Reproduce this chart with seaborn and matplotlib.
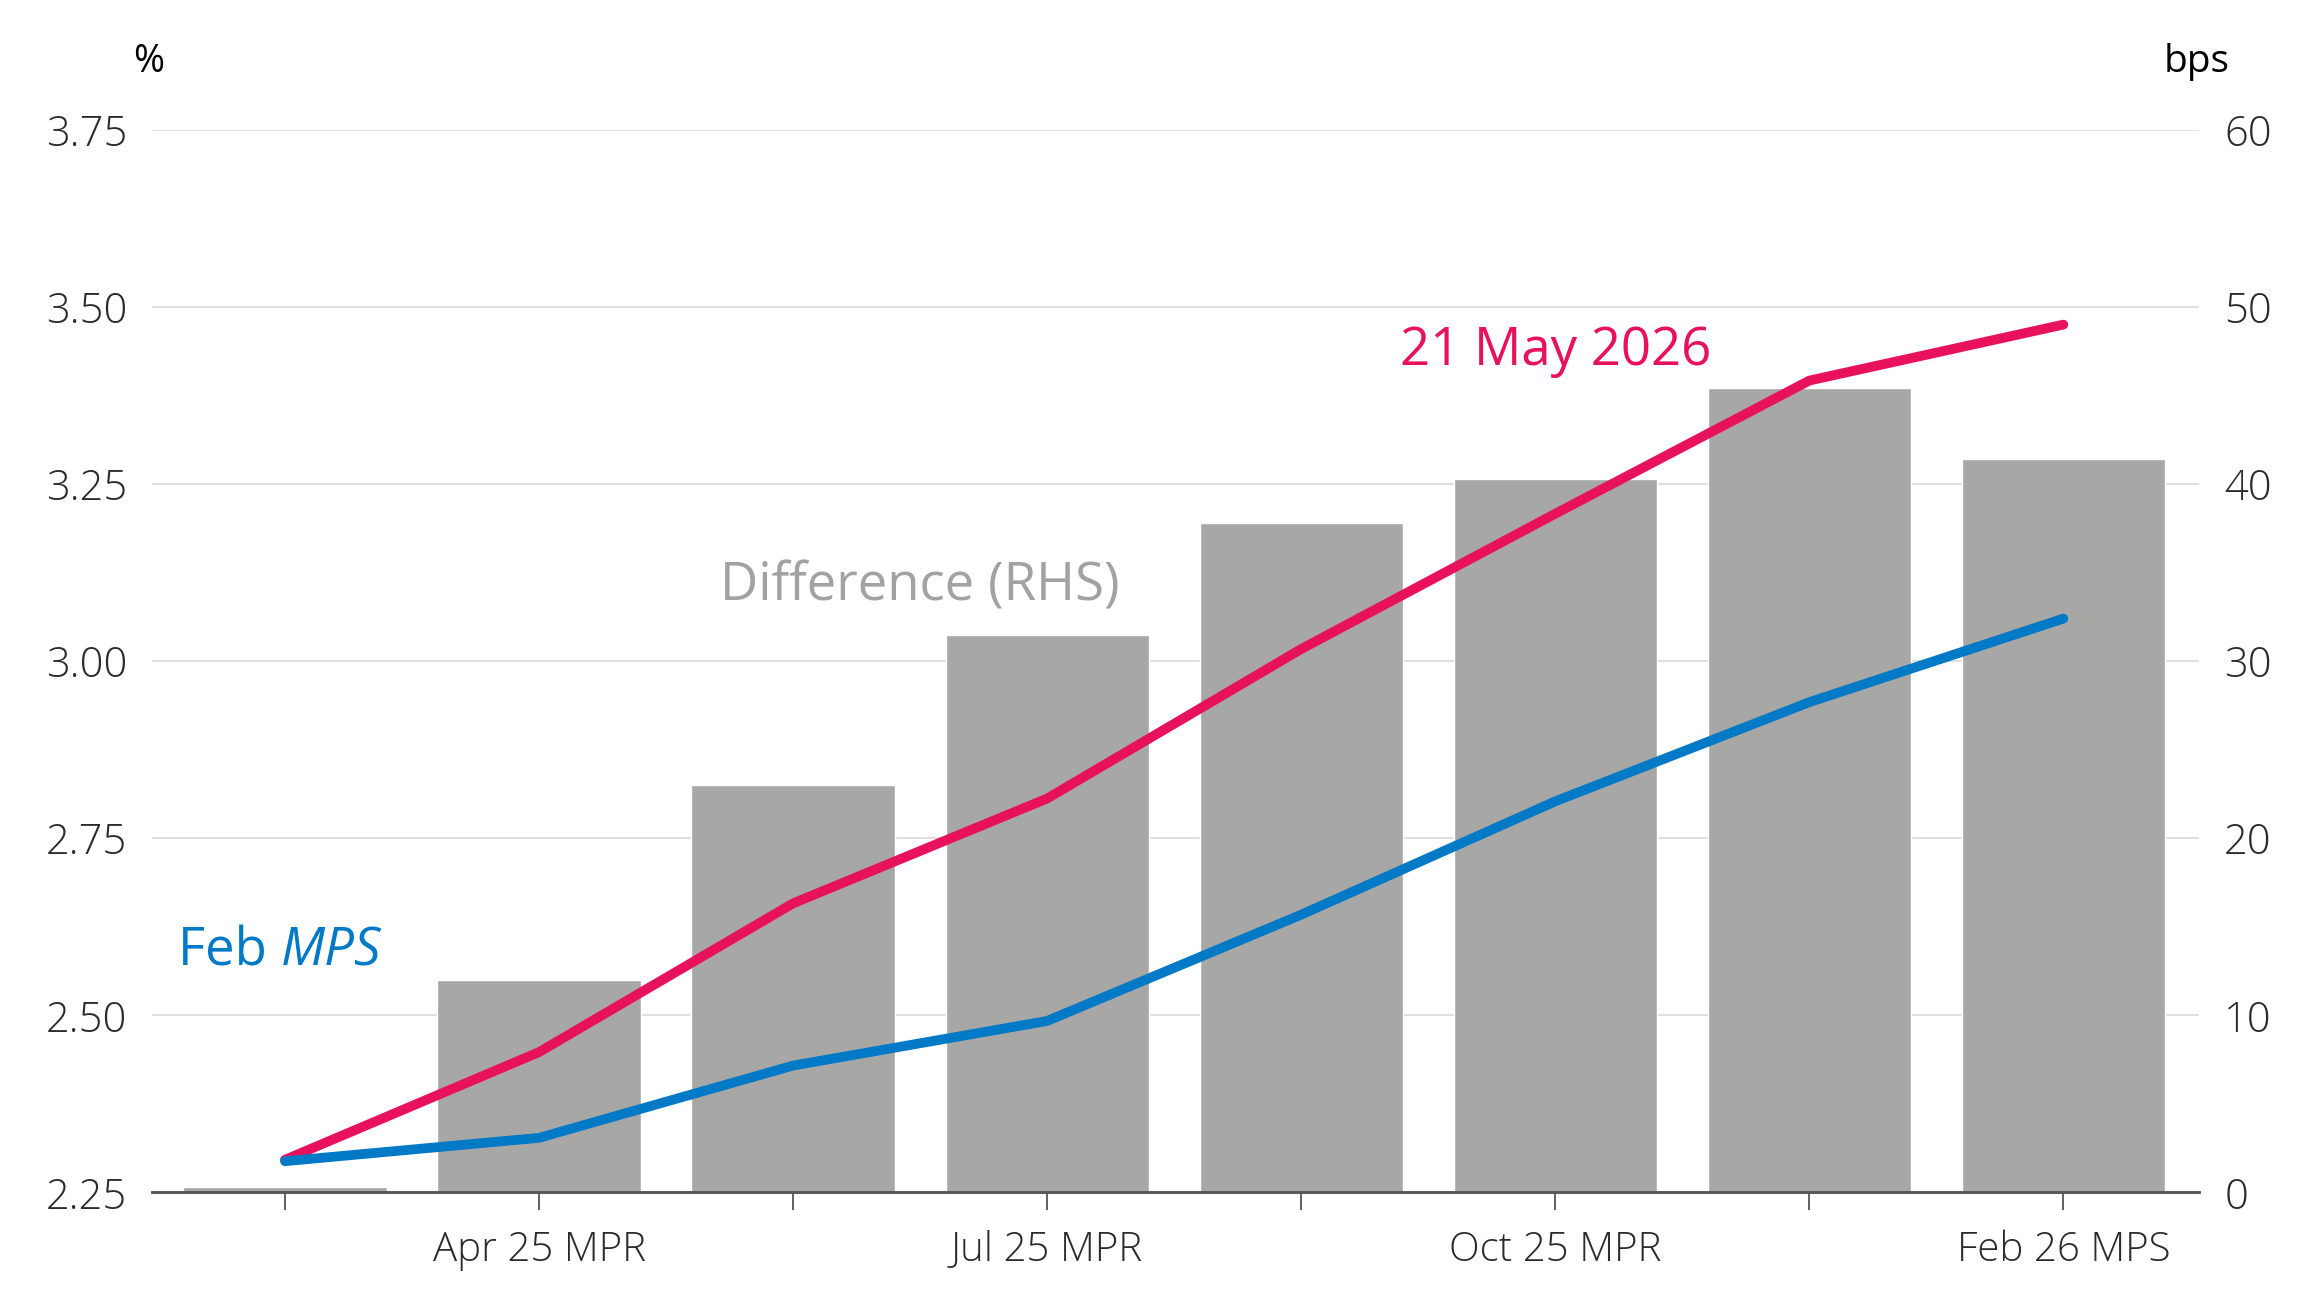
import numpy as np
import pandas as pd
import matplotlib
matplotlib.use("Agg")
import matplotlib.pyplot as plt
import seaborn as sns

# x categories (only every other one is labelled on the chart)
tick_labels = ["", "Apr 25 MPR", "", "Jul 25 MPR", "", "Oct 25 MPR", "", "Feb 26 MPS"]
positions = np.arange(len(tick_labels))

# market curves, % (LHS)
may_2026 = [2.296, 2.448, 2.658, 2.806, 3.017, 3.208, 3.396, 3.475]
feb_mps = [2.294, 2.327, 2.429, 2.492, 2.642, 2.802, 2.942, 3.060]
# difference, bps (RHS)
difference = [0.3, 12.0, 23.0, 31.5, 37.8, 40.3, 45.4, 41.4]

RED = "#E8125C"
BLUE = "#0079C6"
GREY = "#A7A7A6"
TEXT = "#2B2B2B"

sns.set_theme(style="white")
plt.rcParams["font.family"] = ["Open Sans", "DejaVu Sans"]

fig = plt.figure(figsize=(23.15, 13.06), dpi=100)
ax = fig.add_axes([0.0657, 0.087, 0.8843, 0.8136])
ax2 = ax.twinx()

df = pd.DataFrame({"pos": positions, "diff": difference})
sns.barplot(data=df, x="pos", y="diff", ax=ax2, color=GREY, width=0.8,
            saturation=1, native_scale=True, zorder=2)
ax2.set_ylim(0, 60)
ax2.set_yticks(np.arange(0, 61, 10))
ax2.yaxis.grid(True, color="#DCDCDC", linewidth=1.3, zorder=0)
ax2.set_axisbelow(True)
ax2.set_ylabel("")
ax2.set_xlabel("")

sns.lineplot(x=positions, y=may_2026, ax=ax, color=RED, linewidth=7)
sns.lineplot(x=positions, y=feb_mps, ax=ax, color=BLUE, linewidth=7)
ax.set_ylim(2.25, 3.75)
ax.set_yticks(np.arange(2.25, 3.76, 0.25))
ax.set_yticklabels([f"{v:.2f}" for v in np.arange(2.25, 3.76, 0.25)])
ax.set_xlim(-0.523, 7.535)
ax.set_xticks(positions)
ax.set_xticklabels(tick_labels)
ax.set_zorder(ax2.get_zorder() + 1)
ax.patch.set_visible(False)

for a in (ax, ax2):
    for s in ("top", "left", "right"):
        a.spines[s].set_visible(False)
    a.spines["bottom"].set_color("#555555")
    a.spines["bottom"].set_linewidth(1.8)

ax.tick_params(axis="x", bottom=True, length=13, width=1.3, color="#555555",
               labelsize=29, labelcolor=TEXT, pad=14)
ax.tick_params(axis="y", left=False, labelsize=30, labelcolor=TEXT, pad=12)
ax2.tick_params(axis="y", right=False, labelsize=30, labelcolor=TEXT, pad=12)
ax2.tick_params(axis="x", bottom=False, labelbottom=False)
for lab in ax.get_xticklabels() + ax.get_yticklabels() + ax2.get_yticklabels():
    lab.set_fontweight("light")

fig.text(0.0644, 0.9525, "%", fontsize=27, color="black", ha="center", va="center")
fig.text(0.963, 0.9525, "bps", fontsize=28, color="black", ha="right", va="center")

ax.text(5.0, 3.437, "21 May 2026", fontsize=38, color=RED, ha="center", va="center")
ax.text(2.5, 3.105, "Difference (RHS)", fontsize=38, color="#A2A2A2",
        ha="center", va="center")
t = ax.text(-0.42, 2.59, "Feb ", fontsize=38, color=BLUE, ha="left", va="center")
fig.canvas.draw()
bb = t.get_window_extent()
x_end = ax.transData.inverted().transform((bb.x1, 0))[0]
ax.text(x_end, 2.59, "MPS", fontsize=38, color=BLUE, ha="left", va="center",
        fontstyle="italic")

fig.savefig("out.png", dpi=100)
